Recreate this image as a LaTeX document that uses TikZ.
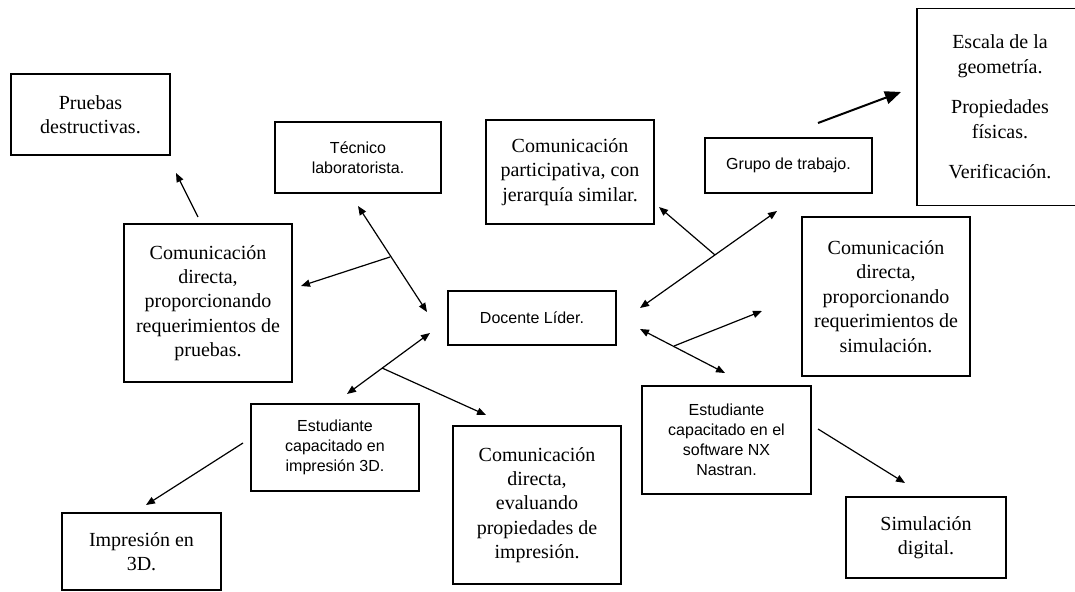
\documentclass[tikz,border=0pt]{standalone}
\usepackage{fontspec}
\setmainfont{Liberation Serif}
\setsansfont{Liberation Sans}
\usetikzlibrary{arrows.meta}
\tikzset{
  sbox/.style={draw, line width=0.7pt, align=center, inner sep=2pt, font=\fontsize{10}{12.2}\selectfont},
  abox/.style={draw, line width=0.7pt, align=center, inner sep=2pt, font=\sffamily\fontsize{8}{10}\selectfont},
  conn/.style={line width=0.6pt, -{Triangle[length=4.5pt,width=3.6pt]}},
  dconn/.style={line width=0.6pt, {Triangle[length=4.5pt,width=3.6pt]}-{Triangle[length=4.5pt,width=3.6pt]}}}

\begin{document}
\begin{tikzpicture}[x=0.5pt, y=-0.5pt]
\useasboundingbox (0,0) rectangle (1075,592);
% boxes, serif
\node[sbox, minimum width=79.5pt, minimum height=40.5pt] (pruebas) at (90.5,114.5) {Pruebas\\destructivas.};
\node[sbox, minimum width=84pt, minimum height=52pt] (particip) at (570,172) {Comunicación\\participativa, con\\jerarquía similar.};
\node[sbox, minimum width=83pt, minimum height=98.5pt] (escala) at (1000,107) {Escala de la\\geometría.\\[8pt]Propiedades\\físicas.\\[8pt]Verificación.};
\node[sbox, minimum width=84pt, minimum height=79pt] (dirPru) at (208,303) {Comunicación\\directa,\\proporcionando\\requerimientos de\\pruebas.};
\node[sbox, minimum width=84pt, minimum height=79.5pt] (dirSim) at (886,296.5) {Comunicación\\directa,\\proporcionando\\requerimientos de\\simulación.};
\node[sbox, minimum width=84pt, minimum height=79pt] (evalua) at (537,505) {Comunicación\\directa,\\evaluando\\propiedades de\\impresión.};
\node[sbox, minimum width=79.5pt, minimum height=38.5pt] (impresion) at (141.5,551.5) {Impresión en\\3D.};
\node[sbox, minimum width=80pt, minimum height=40.5pt] (simdig) at (926,537.5) {Simulación\\digital.};
% boxes, sans
\node[abox, minimum width=83pt, minimum height=35.5pt] (tecnico) at (358,157.5) {Técnico\\laboratorista.};
\node[abox, minimum width=83.5pt, minimum height=27.5pt] (grupo) at (788.5,165.5) {Grupo de trabajo.};
\node[abox, line width=1.3pt, minimum width=84pt, minimum height=27pt] (docente) at (532,318) {Docente Líder.};
\node[abox, minimum width=84pt, minimum height=43.5pt] (est3d) at (335,447.5) {Estudiante\\capacitado en\\impresión 3D.};
\node[abox, minimum width=84.5pt, minimum height=54pt] (estNX) at (726.5,440) {Estudiante\\capacitado en el\\software NX\\Nastran.};
% arrow ends
\coordinate (dpTop) at (198,217);
\coordinate (prTip) at (176,173);
\coordinate (tecTip) at (358,206);
\coordinate (docA) at (427,312);
\coordinate (splitA) at (390,257);
\coordinate (dpTip) at (301,286);
\coordinate (docB) at (430,333);
\coordinate (e3Tip) at (347,394);
\coordinate (splitB) at (382,368);
\coordinate (evTip) at (486,415);
\coordinate (docC) at (640,308);
\coordinate (grTip) at (777,211);
\coordinate (splitC) at (715,255);
\coordinate (paTip) at (659,207);
\coordinate (docD) at (640,329);
\coordinate (nxTip) at (725,373);
\coordinate (splitD) at (674,346);
\coordinate (dsTip) at (762,311);
\coordinate (grOut) at (818,123);
\coordinate (esTip) at (901,92);
\coordinate (e3Out) at (243,443);
\coordinate (imTip) at (146,505);
\coordinate (nxOut) at (818,429);
\coordinate (sdTip) at (905,483);
% connectors
\draw[conn] (dpTop) -- (prTip);
\draw[dconn] (tecTip) -- (docA);
\draw[conn] (splitA) -- (dpTip);
\draw[dconn] (docB) -- (e3Tip);
\draw[conn] (splitB) -- (evTip);
\draw[dconn] (docC) -- (grTip);
\draw[conn] (splitC) -- (paTip);
\draw[dconn] (docD) -- (nxTip);
\draw[conn] (splitD) -- (dsTip);
\draw[line width=1pt, -{Triangle[length=8pt,width=6.5pt]}] (grOut) -- (esTip);
\draw[conn] (e3Out) -- (imTip);
\draw[conn] (nxOut) -- (sdTip);
\end{tikzpicture}
\end{document}
